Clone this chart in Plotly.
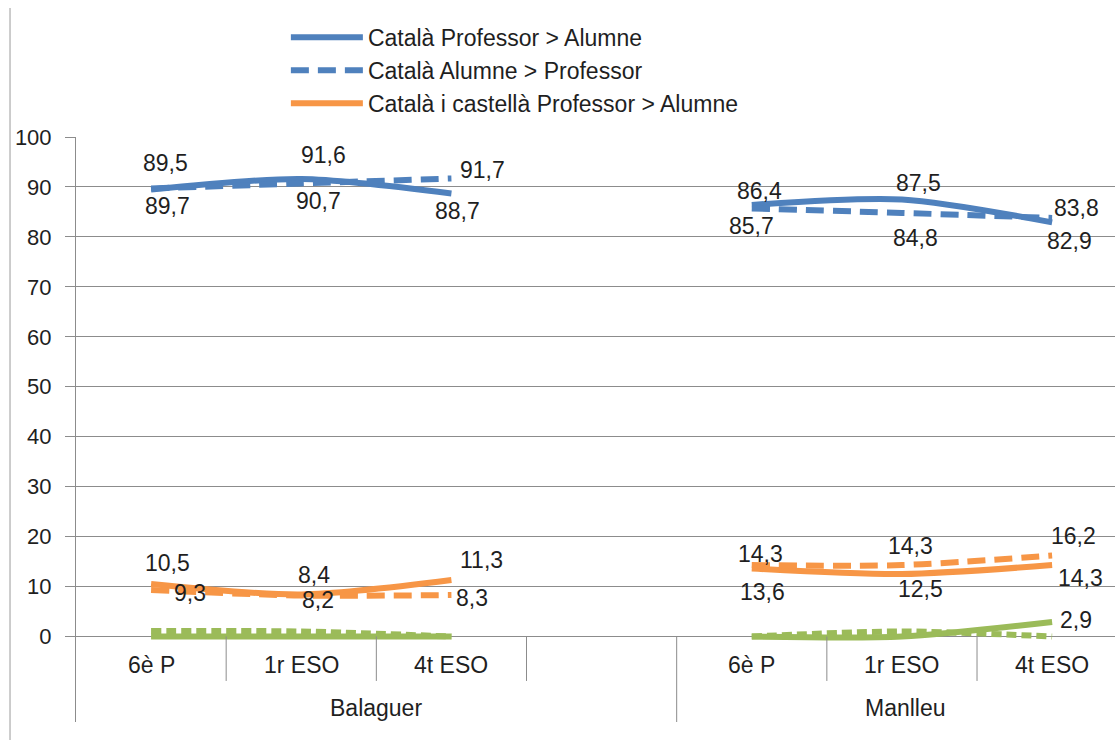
import plotly.graph_objects as go

# Categories
towns = ["Balaguer", "Manlleu"]
courses = ["6è P", "1r ESO", "4t ESO"]

# Series values: Balaguer (6è P, 1r ESO, 4t ESO) followed by Manlleu (same order)
cat_prof_alumne = [89.5, 91.6, 88.7, 86.4, 87.5, 82.9]
cat_alumne_prof = [89.7, 90.7, 91.7, 85.7, 84.8, 83.8]
catcast_prof_alumne = [10.5, 8.4, 11.3, 13.6, 12.5, 14.3]
catcast_alumne_prof = [9.3, 8.2, 8.3, 14.3, 14.3, 16.2]
cast_prof_alumne = [0.0, 0.0, 0.0, 0.0, 0.0, 2.9]
cast_alumne_prof = [1.1, 1.0, 0.0, 0.0, 1.0, 0.0]

y_ticks = list(range(0, 101, 10))

BLUE = "#4F81BD"
ORANGE = "#F79646"
GREEN = "#9BBB59"
GRID = "#8c8c8c"
TEXT = "#1f1f1f"
FONT = "Liberation Sans, Arial, sans-serif"
FS = 23

# Each town takes len(courses)+1 slots on the x axis (one empty slot as spacer)
slot_per_town = len(courses) + 1
x_pos = []
for g in range(len(towns)):
    for i in range(len(courses)):
        x_pos.append(g * slot_per_town + i)


def with_gaps(values):
    """Insert None between towns so the lines break between groups."""
    xs, ys = [], []
    n = len(courses)
    for g in range(len(towns)):
        if g > 0:
            xs.append(g * slot_per_town - 1)
            ys.append(None)
        xs.extend(x_pos[g * n:(g + 1) * n])
        ys.extend(values[g * n:(g + 1) * n])
    return xs, ys


series = [
    ("Català Professor > Alumne", cat_prof_alumne, BLUE, None, True),
    ("Català Alumne > Professor", cat_alumne_prof, BLUE, "18px,9px", True),
    ("Català i castellà Professor > Alumne", catcast_prof_alumne, ORANGE, None, True),
    ("Català i castellà Alumne > Professor", catcast_alumne_prof, ORANGE, "18px,9px", False),
    ("Castellà Professor > Alumne", cast_prof_alumne, GREEN, None, False),
    ("Castellà Alumne > Professor", cast_alumne_prof, GREEN, "10px,5px", False),
]
names = [s[0] for s in series]

fig = go.Figure()
# green first so the other colours sit on top; legend ranks keep the listed order
draw_order = series[4:] + series[:4]
for name, vals, color, dash, legend in draw_order:
    xs, ys = with_gaps(vals)
    fig.add_trace(go.Scatter(
        x=xs, y=ys, name=name, mode="lines", connectgaps=False,
        line=dict(color=color, width=6, shape="spline", smoothing=0.8,
                  dash=dash if dash else "solid"),
        showlegend=legend, hoverinfo="skip",
        legendrank=names.index(name) + 1,
    ))

# Data label offsets (px) per series and point
label_offsets = {
    "Català Professor > Alumne": [(14, -26), (22, -24), (6, 18), (8, -14), (17, -16), (17, 19)],
    "Català Alumne > Professor": [(16, 18), (17, 18), (31, -8), (0, 18), (14, 25), (24, -10)],
    "Català i castellà Professor > Alumne": [(16, -21), (13, -20), (30, -20), (11, 23), (19, 15), (28, 13)],
    "Català i castellà Alumne > Professor": [(39, 3), (17, 4), (21, 3), (9, -11), (9, -19), (21, -20)],
    "Castellà Professor > Alumne": [None, None, None, None, None, (24, -2)],
}

annotations = []
for name, vals, color, dash, legend in series:
    offs = label_offsets.get(name)
    if not offs:
        continue
    for x, v, off in zip(x_pos, vals, offs):
        if off is None:
            continue
        annotations.append(dict(
            x=x, y=v, xref="x", yref="y", showarrow=False,
            text=f"{v:.1f}".replace(".", ","),
            xshift=off[0], yshift=-off[1],
            font=dict(family=FONT, size=FS, color=TEXT),
        ))

# Category axis labels (courses and towns)
y_bottom = -17.12
for x, c in zip(x_pos, courses * len(towns)):
    annotations.append(dict(x=x, y=-5.7, xref="x", yref="y", text=c, showarrow=False,
                            font=dict(family=FONT, size=FS, color=TEXT)))
for g, t in enumerate(towns):
    xs = x_pos[g * len(courses):(g + 1) * len(courses)]
    last = xs[-1] + (1 if g < len(towns) - 1 else 0)
    centre = (xs[0] + last) / 2
    annotations.append(dict(x=centre, y=-14.3, xref="x", yref="y", text=t, showarrow=False,
                            xshift=4 if g == len(towns) - 1 else 0,
                            font=dict(family=FONT, size=FS, color=TEXT)))

shapes = []
# short separators between courses
for g in range(len(towns)):
    for i in range(len(courses)):
        xb = g * slot_per_town + i + 0.5
        shapes.append(dict(type="line", xref="x", yref="y", x0=xb, x1=xb, y0=0, y1=-8.9,
                           line=dict(color=GRID, width=1)))
# long separators between towns
for g in range(1, len(towns)):
    xb = g * slot_per_town - 0.5
    shapes.append(dict(type="line", xref="x", yref="y", x0=xb, x1=xb, y0=0, y1=y_bottom,
                       line=dict(color=GRID, width=1)))
# left frame edge
shapes.append(dict(type="line", xref="paper", yref="paper", x0=-0.0635, x1=-0.0635,
                   y0=-0.04, y1=1.2205, line=dict(color="#9a9a9a", width=1)))

fig.update_layout(
    width=1115, height=740,
    margin=dict(l=76, r=0, t=137, b=18, autoexpand=False),
    paper_bgcolor="white", plot_bgcolor="white",
    font=dict(family=FONT, size=FS, color=TEXT),
    showlegend=True,
    legend=dict(
        x=0.202, y=1.207, xanchor="left", yanchor="top",
        font=dict(family=FONT, size=FS, color=TEXT),
        itemwidth=72, tracegroupgap=0, bgcolor="rgba(0,0,0,0)",
    ),
    xaxis=dict(range=[-0.5, -0.5 + 1039 / 150.17], showgrid=False, zeroline=False,
               showline=False, showticklabels=False, ticks="", fixedrange=True),
    yaxis=dict(range=[y_bottom, 100], tickvals=y_ticks, ticktext=[str(v) for v in y_ticks],
               showgrid=True, gridcolor=GRID, gridwidth=1, zeroline=False,
               showline=True, linecolor=GRID, linewidth=1,
               ticks="outside", ticklen=10, tickcolor=GRID, ticklabelstandoff=9,
               tickfont=dict(family=FONT, size=22, color=TEXT), fixedrange=True),
    annotations=annotations,
    shapes=shapes,
)

fig.write_html("out.html")
